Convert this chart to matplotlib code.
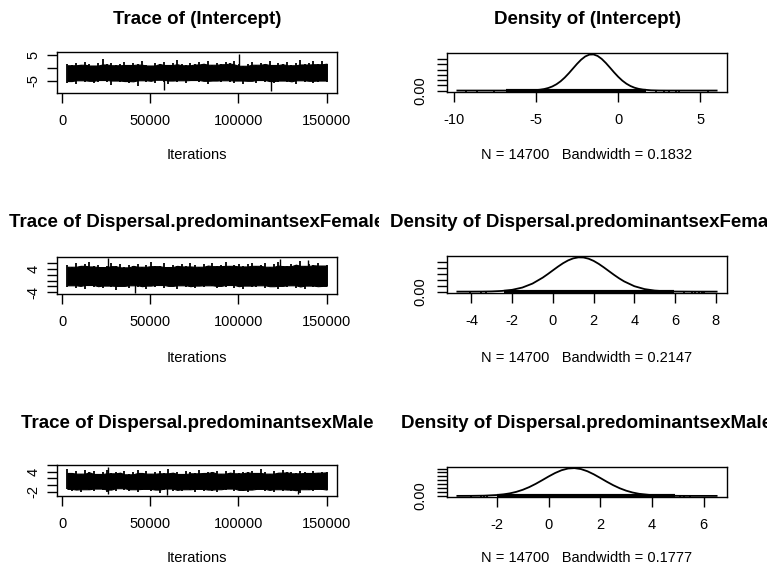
import matplotlib
matplotlib.use('Agg')
import matplotlib.pyplot as plt
import numpy as np
from matplotlib.transforms import Bbox, TransformedBbox

plt.rcParams['font.family'] = ['Liberation Sans', 'DejaVu Sans']

W, H = 767, 569

# Параметры цепочки MCMC
n_samples = 14700
iter_start, iter_end = 3000, 150000
param_names = ['(Intercept)', 'Dispersal.predominantsexFemale', 'Dispersal.predominantsexMale']
bandwidths = [0.1832, 0.2147, 0.1777]

# Верхняя и нижняя граница "ленты" трассы
int_upper = [1.4, 0.9, 1.8, 1.1, 2.2, 1.3, 0.8, 1.6, 3.4, 1.2, 1.9, 0.9, 1.5, 2.3, 1.0, 1.7, 1.2, 2.6, 1.1, 0.8,
             1.9, 1.4, 2.1, 1.0, 1.6, 2.8, 1.3, 0.9, 1.7, 1.2, 2.0, 1.5, 2.4, 1.1, 1.8, 1.3, 2.2, 1.6, 2.5, 1.2,
             0.7, 1.5, 2.0, 1.1, 1.9, 1.4, 2.7, 1.0, 1.6, 1.3, 2.2, 0.9, 1.8, 2.9, 1.2, 1.7, 2.6, 1.3, 2.4, 1.5]
int_lower = [-5.9, -5.2, -6.3, -4.9, -5.6, -5.1, -6.0, -5.4, -4.8, -5.7, -6.6, -5.0, -5.5, -5.2, -6.1, -5.3, -7.2, -4.9, -5.6, -5.1,
             -5.8, -4.7, -5.4, -6.2, -5.0, -5.5, -4.9, -5.9, -5.3, -4.8, -5.6, -5.1, -6.4, -5.2, -5.0, -5.7, -4.9, -5.4, -5.8, -5.0,
             -6.5, -5.3, -5.1, -5.9, -4.8, -5.5, -5.2, -6.0, -5.4, -5.0, -5.7, -5.3, -6.2, -4.9, -5.5, -5.1, -6.1, -5.4, -5.0, -5.6]
fem_upper = [5.2, 4.6, 5.8, 4.9, 5.4, 6.1, 4.7, 5.3, 4.5, 5.0, 5.9, 4.8, 5.5, 4.4, 5.1, 4.9, 5.6, 4.6, 5.3, 6.2,
             4.8, 5.0, 5.7, 4.5, 5.2, 4.9, 5.5, 4.7, 6.0, 5.1, 4.6, 5.4, 5.0, 5.8, 4.8, 5.3, 6.3, 4.9, 5.1, 5.6,
             4.7, 5.5, 6.0, 4.9, 5.2, 5.7, 4.6, 5.4, 6.1, 5.0, 4.8, 5.6, 5.3, 6.4, 4.9, 5.5, 5.1, 5.8, 5.0, 5.3]
fem_lower = [-2.1, -1.6, -2.4, -1.8, -2.9, -1.5, -2.2, -1.9, -2.6, -1.7, -2.3, -3.1, -1.8, -2.0, -2.5, -1.6, -2.2, -1.9, -2.7, -1.7,
             -2.1, -1.5, -2.4, -2.0, -1.8, -2.8, -1.6, -2.2, -1.9, -2.5, -1.7, -2.3, -1.6, -2.0, -2.6, -1.8, -2.2, -1.5, -2.4, -1.9,
             -2.9, -1.7, -2.1, -2.3, -1.6, -2.5, -1.9, -2.0, -2.7, -1.8, -2.2, -1.6, -2.4, -2.0, -3.0, -1.7, -2.3, -1.9, -2.1, -1.8]
male_upper = [4.9, 3.6, 4.2, 3.4, 4.6, 3.8, 4.1, 3.3, 3.9, 4.4, 3.5, 4.0, 3.7, 4.3, 3.2, 3.8, 4.5, 3.6, 4.1, 3.4,
              3.9, 4.2, 3.5, 4.7, 3.7, 4.0, 3.3, 4.2, 3.8, 3.5, 4.4, 3.6, 4.0, 3.9, 4.3, 3.4, 4.1, 3.7, 4.6, 3.5,
              4.0, 3.8, 4.2, 3.6, 4.9, 3.9, 3.4, 4.1, 3.7, 4.5, 3.8, 4.0, 3.5, 4.3, 3.9, 3.6, 4.2, 3.7, 4.0, 3.8]
male_lower = [-1.2, -1.8, -1.4, -2.1, -1.3, -1.6, -1.9, -1.1, -1.5, -2.2, -1.4, -1.7, -1.0, -1.6, -1.9, -1.3, -2.0, -1.5, -1.2, -1.8,
              -1.4, -2.3, -1.6, -1.1, -1.7, -1.5, -1.9, -1.3, -1.6, -2.0, -1.2, -1.8, -1.4, -1.7, -2.1, -1.3, -1.6, -1.1, -1.9, -1.5,
              -1.7, -2.2, -1.4, -1.6, -1.2, -1.8, -1.5, -2.0, -1.3, -1.7, -1.4, -1.9, -1.6, -2.4, -1.3, -1.5, -1.8, -1.2, -1.6, -1.4]

# Отдельные выбросы в трассе: (итерация, значение)
int_spikes = [(57700, -8.55), (100300, 5.43), (118300, -9.22)]
fem_spikes = [(26000, 7.4), (41300, -4.05), (123400, 7.2), (139300, 7.0)]
male_spikes = [(26000, 5.48), (26000, -2.6), (59300, -3.0), (133800, -2.8)]

# Оценки плотности
int_dens_x = [-9.77, -7.0, -6.0, -5.5, -5.0, -4.75, -4.5, -4.25, -4.0, -3.75, -3.5, -3.25, -3.0, -2.75, -2.5, -2.25,
              -2.0, -1.75, -1.5, -1.25, -1.0, -0.75, -0.5, -0.25, 0.0, 0.25, 0.5, 0.75, 1.0, 1.25, 1.5, 2.0, 2.5,
              3.0, 4.0, 5.98]
int_dens_y = [0.0, 0.0, 0.0002, 0.0011, 0.0044, 0.0081, 0.0144, 0.0244, 0.0393, 0.0604, 0.0886, 0.1240, 0.1654,
              0.2105, 0.2555, 0.2958, 0.3266, 0.3441, 0.3457, 0.3313, 0.3028, 0.2640, 0.2196, 0.1742, 0.1318,
              0.0951, 0.0655, 0.0430, 0.0269, 0.0161, 0.0092, 0.0026, 0.0006, 0.0001, 0.0, 0.0]
fem_dens_x = [-4.69, -4.0, -3.5, -3.0, -2.5, -2.0, -1.5, -1.0, -0.5, -0.25, 0.0, 0.25, 0.5, 0.75, 1.0, 1.25, 1.5,
              1.75, 2.0, 2.25, 2.5, 2.75, 3.0, 3.25, 3.5, 4.0, 4.5, 5.0, 5.5, 6.0, 7.0, 8.04]
fem_dens_y = [0.0, 0.0002, 0.0006, 0.0020, 0.0059, 0.0152, 0.0343, 0.0678, 0.1177, 0.1476, 0.1791, 0.2103, 0.2391,
              0.2629, 0.2798, 0.2882, 0.2873, 0.2771, 0.2587, 0.2336, 0.2042, 0.1727, 0.1414, 0.1120, 0.0859,
              0.0457, 0.0214, 0.0087, 0.0031, 0.0010, 0.0001, 0.0]
male_dens_x = [-3.53, -3.0, -2.5, -2.0, -1.75, -1.5, -1.25, -1.0, -0.75, -0.5, -0.25, 0.0, 0.25, 0.5, 0.75, 1.0,
               1.25, 1.5, 1.75, 2.0, 2.25, 2.5, 2.75, 3.0, 3.25, 3.5, 4.0, 4.5, 5.0, 5.5, 6.5]
male_dens_y = [0.0, 0.0007, 0.0031, 0.0111, 0.0195, 0.0325, 0.0517, 0.0782, 0.1125, 0.1540, 0.2005, 0.2485,
               0.2928, 0.3284, 0.3504, 0.3556, 0.3434, 0.3156, 0.2758, 0.2294, 0.1815, 0.1366, 0.0979, 0.0667,
               0.0432, 0.0267, 0.0087, 0.0023, 0.0005, 0.0001, 0.0]

# Коврик (rug): плотная часть и отдельные значения
int_rug_dense = (-6.83, 1.68)
int_rug_points = [-9.22, -8.55, -7.54, 2.29, 2.80, 3.10, 3.50, 3.70, 5.43]
fem_rug_dense = (-2.39, 5.95)
fem_rug_points = [-4.05, -3.53, -3.28, 6.44, 6.85, 7.0, 7.15, 7.3, 7.4]
male_rug_dense = (-1.98, 4.9)
male_rug_points = [-3.0, -2.6, -2.5, -2.4, 5.1, 5.25, 5.48]

trace_yticks = [[-5, 0, 5], [-4, -2, 0, 2, 4, 6], [-2, 0, 2, 4, 6]]
trace_ylabels = [['-5', '', '5'], ['-4', '', '', '', '4', ''], ['-2', '', '', '4', '']]
dens_xticks = [[-10, -5, 0, 5], [-4, -2, 0, 2, 4, 6, 8], [-2, 0, 2, 4, 6]]
iter_ticks = [0, 50000, 100000, 150000]

traces = [(int_upper, int_lower, int_spikes),
          (fem_upper, fem_lower, fem_spikes),
          (male_upper, male_lower, male_spikes)]
densities = [(int_dens_x, int_dens_y, int_rug_dense, int_rug_points),
             (fem_dens_x, fem_dens_y, fem_rug_dense, fem_rug_points),
             (male_dens_x, male_dens_y, male_rug_dense, male_rug_points)]

fig = plt.figure(figsize=(W / 100, H / 100), dpi=100)


def px_axes(l, t, r, b):
    return fig.add_axes([l / W, 1 - b / H, (r - l) / W, (b - t) / H])


def style(ax, ypad=6):
    for sp in ax.spines.values():
        sp.set_linewidth(1.0)
    ax.tick_params(direction='out', length=7, width=1, labelsize=10.5, pad=8)
    ax.tick_params(axis='y', labelrotation=90, pad=ypad)
    for lbl in ax.get_yticklabels():
        lbl.set_va('center')


def fig_label(x, y, s, clip, **kw):
    t = fig.text(x / W, 1 - y / H, s, ha='center', va='center', **kw)
    t.set_clip_on(True)
    t.set_clip_box(TransformedBbox(Bbox(clip), fig.transFigure))
    return t


def inner(vals, pick):
    # "сердцевина" ленты: минимум/максимум по соседям
    v = np.asarray(vals, dtype=float)
    left = np.r_[v[0], v[:-1]]
    right = np.r_[v[1:], v[-1]]
    return pick(pick(left, v), right)


left_clip = [[0, 0], [379 / W, 1]]
right_clip = [[0.5, 0], [1, 1]]
trace_rows = [(52, 93), (257, 294), (465, 496)]
dens_rows = [(53, 92), (256, 293), (467, 497)]
title_y = [19, 222, 423]
xlab_y = [155, 358, 558]

for i in range(3):
    # --- трасса ---
    upper, lower, spikes = traces[i]
    ax = px_axes(57, trace_rows[i][0], 337, trace_rows[i][1])
    its = np.linspace(iter_start, iter_end, len(upper))
    ax.fill_between(its, inner(lower, np.maximum), inner(upper, np.minimum),
                    color='black', lw=0.8)
    ax.vlines(its, lower, upper, color='black', lw=1.3)
    mid = (np.mean(upper) + np.mean(lower)) / 2
    for it, v in spikes:
        ax.vlines(it, mid, v, color='black', lw=1)
    vals = list(upper) + list(lower) + [v for _, v in spikes]
    lo, hi = min(vals), max(vals)
    pad = 0.04 * (hi - lo)
    ax.set_ylim(lo - pad, hi + pad)
    span = iter_end - iter_start
    ax.set_xlim(iter_start - 0.04 * span, iter_end + 0.04 * span)
    ax.set_xticks(iter_ticks)
    ax.set_xticklabels([str(t) for t in iter_ticks])
    ax.set_yticks(trace_yticks[i])
    ax.set_yticklabels(trace_ylabels[i])
    style(ax, ypad=5)
    fig_label(197, title_y[i], 'Trace of ' + param_names[i], left_clip,
              fontsize=13.5, fontweight='bold')
    fig_label(197, xlab_y[i], 'Iterations', left_clip, fontsize=10.5)

    # --- плотность ---
    dx, dy, rug_dense, rug_pts = densities[i]
    ax = px_axes(447, dens_rows[i][0], 727, dens_rows[i][1])
    ax.plot(dx, dy, color='black', lw=1.3)
    peak = max(dy)
    y0, y1 = -0.04 * peak, 1.04 * peak
    ax.set_ylim(y0, y1)
    xr = dx[-1] - dx[0]
    ax.set_xlim(dx[0] - 0.04 * xr, dx[-1] + 0.04 * xr)
    rug_h = 0.05 * (y1 - y0)
    ax.hlines(y0 + rug_h / 2, rug_dense[0], rug_dense[1], color='black', lw=3)
    ax.vlines(rug_pts, y0, y0 + rug_h, color='black', lw=1.3)
    yt = np.arange(0, peak, 0.05)
    ax.set_yticks(yt)
    ax.set_yticklabels(['0.00'] + [''] * (len(yt) - 1))
    ax.set_xticks(dens_xticks[i])
    ax.set_xticklabels([str(t) for t in dens_xticks[i]])
    style(ax, ypad=7)
    fig_label(587, title_y[i], 'Density of ' + param_names[i], right_clip,
              fontsize=13.5, fontweight='bold')
    fig_label(587, xlab_y[i], 'N = %d   Bandwidth = %.4f' % (n_samples, bandwidths[i]),
              right_clip, fontsize=10.5)

fig.savefig('out.png', dpi=100)
plt.close(fig)
